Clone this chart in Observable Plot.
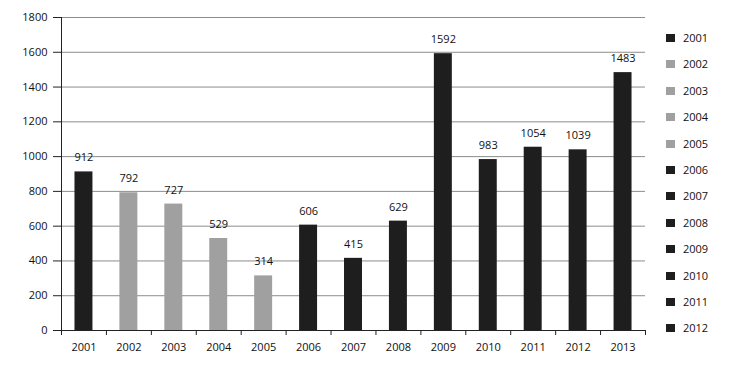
<!DOCTYPE html>
<html>
<head>
<meta charset="utf-8">
<script src="https://cdn.jsdelivr.net/npm/d3@7"></script>
<script src="https://cdn.jsdelivr.net/npm/@observablehq/plot@0.6"></script>
<style>
  html, body { margin: 0; padding: 0; background: #fff; }
  #wrap { position: relative; width: 730px; height: 367px; font-family: "Open Sans", sans-serif; }
  #legend { position: absolute; left: 666px; top: 0; font-size: 11px; color: #111; }
  .li { position: absolute; left: 0; white-space: nowrap; height: 12px; line-height: 12px; }
  .sw { position: absolute; left: 0; top: 2px; width: 9px; height: 8px; }
  .lt { position: absolute; left: 17px; top: 0; }
</style>
</head>
<body>
<div id="wrap"></div>
<script>
const years = ["2001","2002","2003","2004","2005","2006","2007","2008","2009","2010","2011","2012","2013"];
const values = [912, 792, 727, 529, 314, 606, 415, 629, 1592, 983, 1054, 1039, 1483];
const groups = ["dark","gray","gray","gray","gray","dark","dark","dark","dark","dark","dark","dark","dark"];
const legendLabels = ["2001","2002","2003","2004","2005","2006","2007","2008","2009","2010","2011","2012"];
const legendGroups = ["dark","gray","gray","gray","gray","dark","dark","dark","dark","dark","dark","dark"];
const yTicks = [0, 200, 400, 600, 800, 1000, 1200, 1400, 1600, 1800];
const palette = {dark: "#1e1e1e", gray: "#a0a0a0"};

const data = years.map((y, i) => ({year: y, value: values[i], group: groups[i]}));

const W = 730, H = 367, ML = 61, MR = 85, MT = 17, MB = 37;
const step = (W - ML - MR) / years.length;
const frameH = H - MT - MB;

const chart = Plot.plot({
  width: W, height: H,
  marginLeft: ML, marginRight: MR, marginTop: MT, marginBottom: MB,
  style: {fontFamily: "Open Sans, sans-serif", fontSize: "11px", color: "#111", background: "#fff"},
  x: {type: "band", domain: years, paddingInner: 0.6, paddingOuter: 0.3, round: false, label: null},
  y: {type: "linear", domain: [0, 1800], label: null},
  color: {domain: ["dark","gray"], range: [palette.dark, palette.gray]},
  marks: [
    Plot.gridY(yTicks, {stroke: "#8c8c8c", strokeOpacity: 1, strokeWidth: 1}),
    Plot.barY(data, {x: "year", y: "value", fill: "group"}),
    Plot.ruleY([0], {stroke: "#222"}),
    Plot.axisY(yTicks, {tickSize: 8, tickPadding: 6, stroke: "#222", tickFormat: d => String(d), fill: "#111"}),
    Plot.ruleX([years[0]], {dx: -step / 2, stroke: "#222"}),
    // boundary tick marks below the x axis
    Plot.ruleX(years, {dx: -step / 2, stroke: "#222", insetTop: frameH, insetBottom: -5}),
    Plot.ruleX([years[years.length - 1]], {dx: step / 2, stroke: "#222", insetTop: frameH, insetBottom: -5}),
    Plot.axisX({tickSize: 0, tickPadding: 13, fill: "#111"}),
    Plot.text(data, {x: "year", y: "value", text: d => String(d.value), dy: -14, fill: "#111"})
  ]
});
document.getElementById("wrap").appendChild(chart);

const legend = document.createElement("div");
legend.id = "legend";
legendLabels.forEach((lab, i) => {
  const row = document.createElement("div");
  row.className = "li";
  row.style.top = (32 + i * 26.4) + "px";
  const sw = document.createElement("span");
  sw.className = "sw";
  sw.style.background = palette[legendGroups[i]];
  const t = document.createElement("span");
  t.className = "lt";
  t.textContent = lab;
  row.appendChild(sw); row.appendChild(t);
  legend.appendChild(row);
});
document.getElementById("wrap").appendChild(legend);
</script>
</body>
</html>
